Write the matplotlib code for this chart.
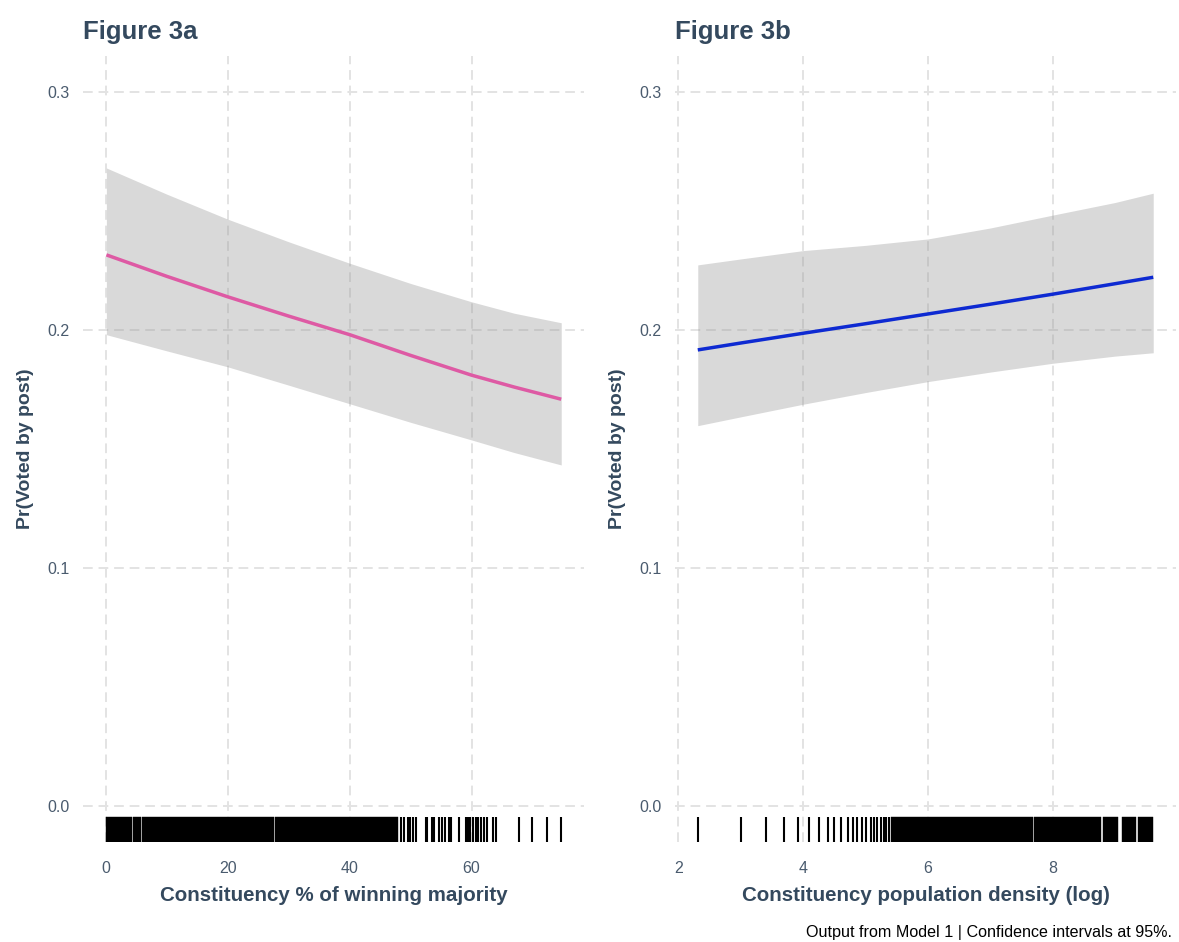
import matplotlib
matplotlib.use("Agg")
import matplotlib.pyplot as plt

# Figure 3a: % of winning majority
maj_x = [0.1, 10, 20, 30, 40, 50, 60, 67, 74.7]
maj_fit = [0.2315, 0.2225, 0.2139, 0.2058, 0.1980, 0.1893, 0.1810, 0.1760, 0.1709]
maj_hi = [0.2680, 0.2570, 0.2465, 0.2370, 0.2280, 0.2195, 0.2118, 0.2070, 0.2030]
maj_lo = [0.1980, 0.1912, 0.1845, 0.1768, 0.1690, 0.1612, 0.1538, 0.1485, 0.1433]

# rug: dense runs of observations, then single observations
maj_rug_runs = [(0.0, 4.35), (4.45, 5.8), (5.9, 27.65), (27.75, 47.9)]
maj_rug = [48.5, 48.9, 49.6, 49.9, 50.4, 50.8, 52.5, 52.7, 53.5, 53.9, 54.6,
           55.2, 55.7, 56.3, 56.7, 58.0, 59.0, 59.4, 59.8, 60.2, 60.7, 61.0,
           61.6, 62.0, 62.5, 63.5, 64.0, 67.8, 69.9, 72.3, 74.7]

# Figure 3b: population density (log)
dens_x = [2.31, 3, 4, 5, 6, 7, 8, 9, 9.61]
dens_fit = [0.1916, 0.1945, 0.1986, 0.2026, 0.2067, 0.2108, 0.2150, 0.2194, 0.2221]
dens_hi = [0.2273, 0.2298, 0.2333, 0.2355, 0.2382, 0.2428, 0.2482, 0.2535, 0.2574]
dens_lo = [0.1598, 0.1635, 0.1688, 0.1737, 0.1783, 0.1823, 0.1860, 0.1890, 0.1904]

dens_rug = [2.31, 3.0, 3.41, 3.70, 3.92, 4.10, 4.26, 4.39, 4.50, 4.61, 4.71,
            4.79, 4.87, 4.94, 5.01, 5.08, 5.14, 5.19, 5.24, 5.29, 5.33, 5.37]
dens_rug_runs = [(5.40, 7.68), (7.70, 8.78), (8.80, 9.04), (9.11, 9.34), (9.36, 9.61)]

y_ticks = [0.0, 0.1, 0.2, 0.3]
maj_ticks = [0, 20, 40, 60]
dens_ticks = [2, 4, 6, 8]

TEXT = "#34495E"
TICK = "#4A5B6E"
FONT = "Liberation Sans"

plt.rcParams["font.family"] = [FONT, "DejaVu Sans"]

fig = plt.figure(figsize=(11.79, 9.42), dpi=100)
W, H = 1179, 942


def panel(left, x, fit, lo, hi, rug, runs, xticks, xlim, color, title, xlabel):
    ax = fig.add_axes([left / W, 1 - 842 / H, 501 / W, 786 / H])
    ax.set_axisbelow(True)
    ax.grid(True, color="#E3E3E3", lw=1.4, ls=(0, (5, 3)), zorder=0)
    for s in ax.spines.values():
        s.set_visible(False)

    ax.fill_between(x, lo, hi, color="#999999", alpha=0.37, lw=0, zorder=2)
    ax.plot(x, fit, color=color, lw=2.5, zorder=3, solid_capstyle="butt")

    # rug along the bottom of the panel
    tr = ax.get_xaxis_transform()
    ax.vlines(rug, 0, 0.032, transform=tr, color="black", lw=1.5, zorder=4)
    for a, b in runs:
        ax.axvspan(a, b, ymin=0, ymax=0.032, color="black", lw=0.3, zorder=4)

    ax.set_xlim(*xlim)
    ax.set_ylim(-0.015, 0.315)
    ax.set_xticks(xticks)
    ax.set_yticks(y_ticks)
    ax.set_yticklabels([f"{v:.1f}" for v in y_ticks])
    ax.tick_params(length=0, labelsize=11.5, labelcolor=TICK)
    ax.tick_params(axis="x", pad=14)
    ax.tick_params(axis="y", pad=9.5)

    ax.set_xlabel(xlabel, fontsize=14.8, fontweight="bold", color=TEXT, labelpad=7)
    ax.set_ylabel("Pr(Voted by post)", fontsize=14, fontweight="bold",
                  color=TEXT, labelpad=10)
    ax.set_title(title, loc="left", fontsize=18.5, fontweight="bold",
                 color=TEXT, pad=12)
    return ax


panel(83, maj_x, maj_fit, maj_lo, maj_hi, maj_rug, maj_rug_runs, maj_ticks,
      (-3.735, 78.435), "#DE5AA4", "Figure 3a",
      "Constituency % of winning majority")
panel(675, dens_x, dens_fit, dens_lo, dens_hi, dens_rug, dens_rug_runs, dens_ticks,
      (1.945, 9.975), "#0E2AD2", "Figure 3b",
      "Constituency population density (log)")

fig.text(1172 / W, 1 - 932 / H, "Output from Model 1 | Confidence intervals at 95%.",
         ha="right", va="center", fontsize=11.6, color="black")

fig.savefig("out.png", dpi=100)
